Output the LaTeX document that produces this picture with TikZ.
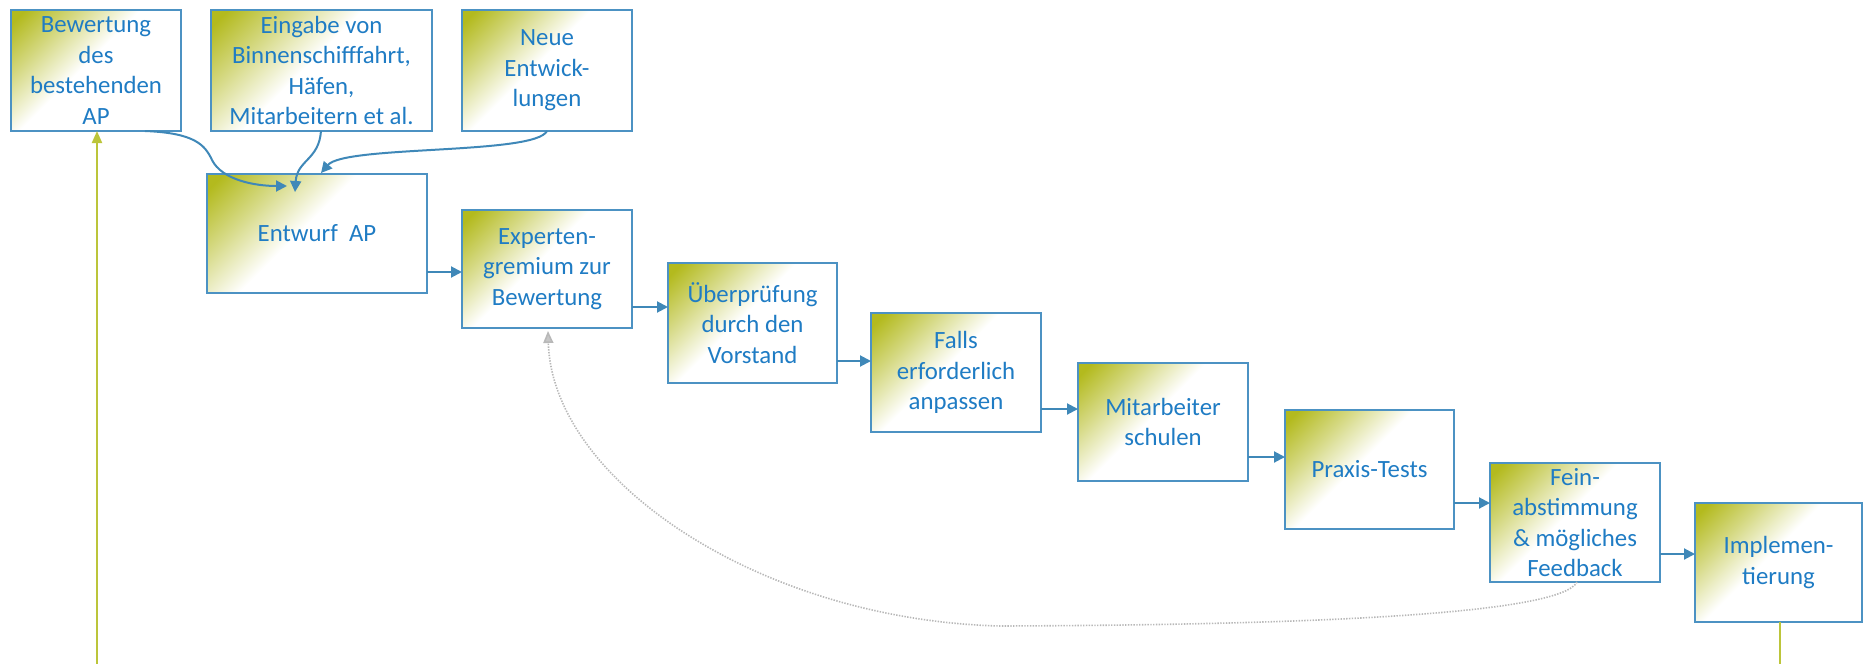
\documentclass[tikz,border=0pt]{standalone}
\usepackage{fontspec}
\setmainfont{Carlito}
\usetikzlibrary{arrows.meta,calc}
\definecolor{boxblue}{HTML}{4C92C3}
\definecolor{txtblue}{HTML}{1F7CC4}
\definecolor{arrblue}{HTML}{3F88B8}
\definecolor{oliv}{HTML}{B3BA1E}
\definecolor{grn}{HTML}{BCC53A}
\definecolor{dotgray}{HTML}{B8B8B8}
\pgfdeclarehorizontalshading{cornerfade}{100bp}{color(0bp)=(oliv); color(18bp)=(oliv); color(31bp)=(oliv!55); color(46bp)=(white); color(100bp)=(white)}
\tikzset{
  box/.style={draw=boxblue, line width=0.8pt, shading=cornerfade, shading angle=-45,
    text=txtblue, align=center, inner sep=0pt, outer sep=0pt,
    font=\fontsize{12.4}{15.3}\selectfont},
  sz/.style 2 args={minimum width=#1*0.5pt, minimum height=#2*0.5pt},
  arr/.style={draw=arrblue, line width=1pt, -{Triangle[length=5.5pt,width=5.5pt]}},
  fb/.style={draw=dotgray, line width=0.8pt, dash pattern=on 0.7pt off 0.7pt,
    -{Triangle[length=6pt,width=5pt,fill=dotgray!80]}},
  gline/.style={draw=grn, line width=1pt},
}
\begin{document}
\begin{tikzpicture}[x=0.5pt,y=-0.5pt]
\useasboundingbox (0,0) rectangle (1864,664);
% boxes
\node[box, sz={170}{121}] (bew) at (96,70.5) {Bewertung\\des\\bestehenden\\AP};
\node[box, sz={221}{121}] (ein) at (321.5,70.5) {Eingabe von\\Binnenschifffahrt,\\Häfen,\\Mitarbeitern et al.};
\node[box, sz={170}{121}] (neu) at (547,70.5) {Neue\\Entwick-\\lungen};
\node[box, sz={220}{119}] (ent) at (317,233.5) {Entwurf\ \ AP};
\node[box, sz={170}{118}] (exp) at (547,269) {Experten-\\gremium zur\\Bewertung};
\node[box, sz={169}{120}] (ueb) at (752.5,323) {Überprüfung\\durch den\\Vorstand};
\node[box, sz={170}{119}] (fal) at (956,372.5) {Falls\\erforderlich\\anpassen};
\node[box, sz={170}{118}] (mit) at (1163,422) {Mitarbeiter\\schulen};
\node[box, sz={169}{119}] (pra) at (1369.5,469.5) {Praxis-Tests};
\node[box, sz={170}{119}] (fei) at (1575,522.5) {Fein-\\abstimmung\\\& mögliches\\Feedback};
\node[box, sz={167}{119}] (imp) at (1778.5,562.5) {Implemen-\\tierung};

% horizontal chain arrows
\path (ent.south east) ++(0,-21) coordinate (c1);
\draw[arr] (c1) -- (c1 -| exp.west);
\path (exp.south east) ++(0,-21) coordinate (c2);
\draw[arr] (c2) -- (c2 -| ueb.west);
\path (ueb.south east) ++(0,-22) coordinate (c3);
\draw[arr] (c3) -- (c3 -| fal.west);
\path (fal.south east) ++(0,-23) coordinate (c4);
\draw[arr] (c4) -- (c4 -| mit.west);
\path (mit.south east) ++(0,-24) coordinate (c5);
\draw[arr] (c5) -- (c5 -| pra.west);
\path (pra.south east) ++(0,-26) coordinate (c6);
\draw[arr] (c6) -- (c6 -| fei.west);
\path (fei.south east) ++(0,-28) coordinate (c7);
\draw[arr] (c7) -- (c7 -| imp.west);

% inputs into Entwurf
\coordinate (b1) at ($(bew.south west)+(134,0)$);
\coordinate (e1) at ($(ent.north west)+(80,12)$);
\draw[arr] (b1) .. controls (195,133) and (205,145) .. (212,160)
  .. controls (222,180) and (255,186) .. (e1);
\coordinate (b2) at ($(ein.south west)+(110,0)$);
\coordinate (e2) at ($(ent.north west)+(88,18)$);
\draw[arr] (b2) .. controls (319,160) and (297,160) .. (e2);
\coordinate (b3) at ($(neu.south west)+(85,0)$);
\coordinate (e3) at ($(ent.north west)+(114,-1)$);
\draw[arr] (b3) .. controls (535,155) and (345,145) .. (e3);

% feedback loop
\coordinate (f1) at ($(fei.south west)+(87,0)$);
\coordinate (f2) at ($(exp.south west)+(86,3)$);
\draw[fb] (f1) .. controls (1560,615) and (1300,625) .. (1000,626)
  .. controls (760,620) and (552,480) .. (f2);

% green return line
\draw[gline] (imp.south -| 1780,0) -- (1780,664);
\coordinate (g2) at (97,664);
\draw[gline, -{Triangle[length=6pt,width=5pt]}] (g2) -- (g2 |- bew.south);
\end{tikzpicture}
\end{document}
